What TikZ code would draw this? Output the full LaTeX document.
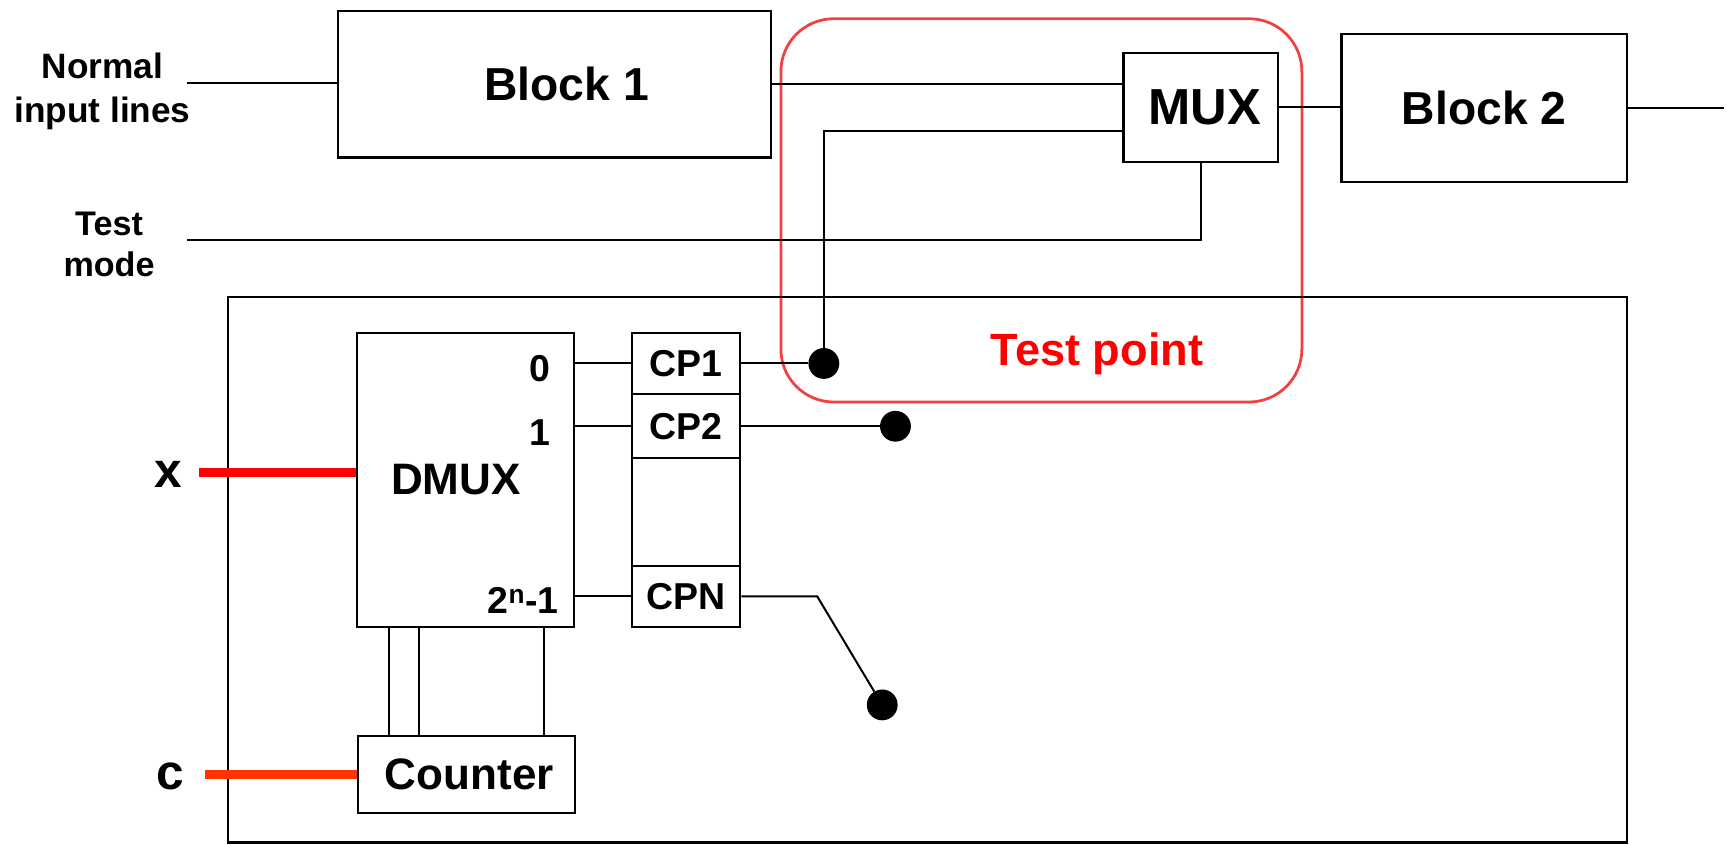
\documentclass[tikz,border=0pt]{standalone}
\usepackage{fontspec}
\setmainfont{Liberation Sans}
\definecolor{xred}{RGB}{255,0,0}
\definecolor{cred}{RGB}{255,51,0}
\definecolor{zonered}{RGB}{240,64,64}
\definecolor{tpred}{RGB}{255,0,0}
\tikzset{
  fnt/.style={font=\fontsize{#1}{#1}\selectfont\bfseries},
  blk/.style={draw=black, line width=2pt, inner sep=0pt, fill=white},
  wire/.style={draw=black, line width=1.8pt},
  xwire/.style={draw=xred, line width=8.5pt},
  cwire/.style={draw=cred, line width=8.5pt},
  zone/.style={draw=zonered, line width=2.5pt, rounded corners=48pt, inner sep=0pt},
  tdot/.style={circle, fill=black, inner sep=0pt, minimum size=28pt},
  lbl/.style={inner sep=0pt, align=center},
}
\begin{document}
\begin{tikzpicture}[x=1pt, y=-1pt]
\useasboundingbox (0,0) rectangle (1568,767);

% test-point zone
\node[zone, minimum width=473pt, minimum height=348pt] (zone) at (945.5,191) {};
\node[lbl, fnt=41, text=tpred] (tptext) at (996,321) {Test point};

% main path blocks
\node[blk, fnt=42, minimum width=393pt, minimum height=133pt] (b1) at (503.5,76.5) {\hspace*{22pt}Block 1};
\node[blk, fnt=46, minimum width=140pt, minimum height=99pt] (mux) at (1090,97.5) {\hspace*{8pt}MUX};
\node[blk, fnt=42, minimum width=259pt, minimum height=134pt] (b2) at (1347.5,98) {Block 2};

% input labels
\node[lbl, fnt=32] (nin) at (93,83) {Normal\\[8pt]input lines};
\node[lbl, fnt=31] (tmode) at (99,222) {Test\\[6pt]mode};
\coordinate (ninend) at (170,75);
\coordinate (tmend) at (170,218);

% test circuitry enclosure
\node[draw=black, line width=2pt, inner sep=0pt, minimum width=1270pt, minimum height=495pt] (chip) at (842,517.5) {};

% demultiplexer and counter
\node[blk, minimum width=197pt, minimum height=267pt] (dmux) at (422.5,435.5) {};
\node[lbl, fnt=40] (dmuxtext) at (414,435) {DMUX};
\node[blk, fnt=40, minimum width=197pt, minimum height=70pt] (counter) at (423.5,703) {\hspace*{5pt}Counter};

% port numbers
\node[lbl, fnt=34] (p0) at (490,335) {0};
\node[lbl, fnt=34] (p1) at (490,393) {1};
\node[lbl, fnt=34] (pn) at (475,545) {2\textsuperscript{n}-1};

% control points
\node[blk, fnt=34, minimum width=98pt, minimum height=56pt] (cp1) at (623,330) {CP1};
\node[blk, fnt=34, minimum width=98pt, minimum height=58pt] (cp2) at (623,387) {CP2};
\node[blk, minimum width=98pt, minimum height=98pt] (cpgap) at (623,465) {};
\node[blk, fnt=34, minimum width=98pt, minimum height=55pt] (cpn) at (623,541.5) {CPN};

% test points
\node[tdot] (tp1) at (748,330) {};
\node[tdot] (tp2) at (813,387) {};
\node[tdot] (tp3) at (801,640) {};

% x and c inputs
\node[lbl, fnt=45] (xl) at (153,431) {x};
\node[lbl, fnt=45] (cl) at (155,705) {c};
\coordinate (xs) at (181,429);
\coordinate (cs) at (186,703);

% wiring of the functional path
\draw[wire] (ninend) -- (ninend -| b1.west);
\draw[wire] (b1.east) -- (b1.east -| mux.west);
\coordinate (m2) at (1020,119);
\draw[wire] (m2) -- (tp1 |- m2) -- (tp1);
\draw[wire] (tmend) -- (tmend -| mux.south) -- (mux.south);
\draw[wire] (mux.east) -- (mux.east -| b2.west);
\coordinate (out) at (1565,98);
\draw[wire] (b2.east) -- (out);

% wiring of the test circuitry
\draw[wire] (cp1.west -| dmux.east) -- (cp1.west);
\draw[wire] (cp2.west -| dmux.east) -- (cp2.west);
\draw[wire] (cpn.west -| dmux.east) -- (cpn.west);
\draw[wire] (cp1.east) -- (tp1);
\draw[wire] (cp2.east) -- (tp2);
\coordinate (kink) at (742,541.5);
\draw[wire] (cpn.east) -- (kink) -- (tp3);
\foreach \dx in {-69.5,-42.5,71.5}
  \draw[wire] ([xshift=\dx pt]dmux.south) -- ([xshift=\dx pt]dmux.south |- counter.north);

% coloured inputs
\draw[xwire] (xs) -- (xs -| dmux.west);
\draw[cwire] (cs) -- (cs -| counter.west);
\end{tikzpicture}
\end{document}
